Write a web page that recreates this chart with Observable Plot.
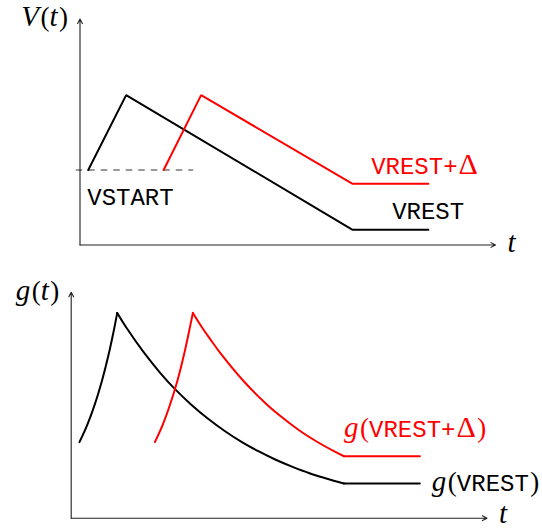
<!DOCTYPE html>
<html>
<head>
<meta charset="utf-8">
<script src="https://cdn.jsdelivr.net/npm/d3@7"></script>
<script src="https://cdn.jsdelivr.net/npm/@observablehq/plot@0.6"></script>
<style>
  html, body { margin: 0; padding: 0; background: #fff; }
  #chart { width: 542px; height: 529px; }
  #chart svg { display: block; overflow: visible; }
</style>
</head>
<body>
<div id="chart"></div>
<script>
// Axis extents, in time units and value units
const tMax = 11.08;
const yMax = 6.03;

// Axis titles
const vAxisTitle = "V(t)";
const gAxisTitle = "g(t)";
const tAxisTitle = "t";

// V(t): piecewise-linear voltage traces
const vTimeBlack = [0.22, 1.23, 7.27, 9.29];
const vBlack     = [2.0, 4.0, 0.405, 0.405];
const vTimeRed   = [2.23, 3.23, 7.27, 9.29];
const vRed       = [2.0, 4.0, 1.632, 1.632];
const vStart     = 2.0;
const vStartSpan = [-0.1, 3.03];

// g(t): rising branch, decaying branch and resting plateau
const gRiseTimeBlack  = [0.22, 0.42, 0.62, 0.82, 1.02, 1.13, 1.227];
const gRiseBlack      = [2.03, 2.47, 3.01, 3.67, 4.47, 4.98, 5.477];
const gDecayTimeBlack = [1.227, 1.5, 1.93, 2.37, 2.76, 3.2, 3.64, 4.1, 4.55, 5.0, 5.45, 5.9, 6.35, 6.8, 7.27];
const gDecayBlack     = [5.477, 5.04, 4.43, 3.88, 3.45, 3.03, 2.66, 2.32, 2.03, 1.78, 1.56, 1.37, 1.2, 1.06, 0.925];
const gFlatTime       = [7.27, 9.29];
const gFlatBlack      = [0.925, 0.925];

const gRiseTimeRed  = [2.23, 2.43, 2.63, 2.83, 3.03, 3.15, 3.243];
const gRiseRed      = [2.03, 2.47, 3.02, 3.67, 4.47, 5.03, 5.477];
const gDecayTimeRed = [3.243, 3.5, 3.71, 3.97, 4.61, 5.22, 5.66, 6.11, 6.55, 7.0, 7.27];
const gDecayRed     = [5.477, 5.07, 4.77, 4.41, 3.64, 3.03, 2.66, 2.32, 2.04, 1.79, 1.653];
const gFlatRed      = [1.653, 1.653];

// Curve labels
const vStartLabel = "VSTART";
const vRestLabel = "VREST";
const vShiftLabel = "VREST+Δ";
const gRestLabel = "g(VREST)";
const gShiftLabel = "g(VREST+Δ)";

const RED = "#ff0000";
const BLACK = "#000000";
const MONO = "Liberation Mono, DejaVu Sans Mono, monospace";
const SERIF = "Liberation Serif, DejaVu Serif, serif";

const rows = (ts, vs) => ts.map((t, i) => ({t, v: vs[i]}));

function axes() {
  return Plot.arrow([{t: 0, v: yMax}, {t: tMax, v: 0}], {
    x1: 0, y1: 0, x2: "t", y2: "v",
    stroke: "#222", strokeWidth: 1.1, headLength: 7, headAngle: 55
  });
}

function label(s, t, v, opts) {
  return Plot.text([{t, v, s}], {
    x: "t", y: "v", text: "s",
    fontSize: 24, lineAnchor: "middle", textAnchor: "start",
    fill: s.includes("Δ") ? RED : BLACK,
    ...opts
  });
}

// Mixed typesetting: typewriter runs for identifiers, upright serif for
// parentheses and Δ, italic serif for single math letters.
function typeset(svg) {
  d3.select(svg).selectAll("text").each(function () {
    const s = this.textContent;
    const runs = s.match(/[A-Z][A-Z+]+|./g) || [];
    const sel = d3.select(this);
    sel.text(null);
    for (const r of runs) {
      const ts = sel.append("tspan").text(r);
      if (/^[A-Z][A-Z+]+$/.test(r)) {
        ts.attr("font-family", MONO).attr("font-size", 24);
      } else if (/[()]/.test(r)) {
        ts.attr("font-family", SERIF).attr("font-size", 27).attr("dx", 1.5);
      } else if (r === "Δ") {
        ts.attr("font-family", SERIF).attr("font-size", 30).attr("dx", 1);
      } else {
        ts.attr("font-family", SERIF).attr("font-style", "italic").attr("font-size", 29);
      }
    }
  });
  return svg;
}

const topPlot = Plot.plot({
  width: 542, height: 262,
  marginLeft: 79.5, marginRight: 47, marginTop: 18.5, marginBottom: 17.5,
  x: {domain: [0, tMax], axis: null},
  y: {domain: [0, yMax], axis: null},
  marks: [
    Plot.ruleY([vStart], {x1: vStartSpan[0], x2: vStartSpan[1], stroke: "#333", strokeWidth: 1.1, strokeDasharray: "6.5,6"}),
    axes(),
    Plot.line(rows(vTimeBlack, vBlack), {x: "t", y: "v", stroke: BLACK, strokeWidth: 2, strokeLinejoin: "miter"}),
    Plot.line(rows(vTimeRed, vRed), {x: "t", y: "v", stroke: RED, strokeWidth: 2, strokeLinejoin: "miter"}),
    label(vAxisTitle, 0, yMax, {textAnchor: "end", dx: -12, dy: -1}),
    label(tAxisTitle, tMax, 0, {dx: 12, dy: -1}),
    label(vStartLabel, vTimeBlack[0], vStart, {dx: -1, dy: 27}),
    label(vShiftLabel, vTimeRed[2], vRed[2], {dx: 18.5, dy: -17.7}),
    label(vRestLabel, vTimeBlack[2], vBlack[2], {dx: 39.5, dy: -18.7})
  ]
});

const bottomPlot = Plot.plot({
  width: 542, height: 267,
  marginLeft: 70.7, marginRight: 55.5, marginTop: 29.7, marginBottom: 11.3,
  x: {domain: [0, tMax], axis: null},
  y: {domain: [0, yMax], axis: null},
  marks: [
    axes(),
    Plot.line(rows(gRiseTimeBlack, gRiseBlack), {x: "t", y: "v", stroke: BLACK, strokeWidth: 2, curve: "catmull-rom"}),
    Plot.line(rows(gDecayTimeBlack, gDecayBlack), {x: "t", y: "v", stroke: BLACK, strokeWidth: 2, curve: "catmull-rom"}),
    Plot.line(rows(gFlatTime, gFlatBlack), {x: "t", y: "v", stroke: BLACK, strokeWidth: 2}),
    Plot.line(rows(gRiseTimeRed, gRiseRed), {x: "t", y: "v", stroke: RED, strokeWidth: 2, curve: "catmull-rom"}),
    Plot.line(rows(gDecayTimeRed, gDecayRed), {x: "t", y: "v", stroke: RED, strokeWidth: 2, curve: "catmull-rom"}),
    Plot.line(rows(gFlatTime, gFlatRed), {x: "t", y: "v", stroke: RED, strokeWidth: 2}),
    label(gAxisTitle, 0, yMax, {textAnchor: "end", dx: -12, dy: 0}),
    label(tAxisTitle, tMax, 0, {dx: 12, dy: -3}),
    label(gShiftLabel, gFlatTime[0], gFlatRed[0], {dx: 0, dy: -26.7}),
    label(gRestLabel, gFlatTime[1], gFlatBlack[1], {dx: 12, dy: 0})
  ]
});

const chart = document.getElementById("chart");
chart.appendChild(typeset(topPlot));
chart.appendChild(typeset(bottomPlot));
</script>
</body>
</html>
